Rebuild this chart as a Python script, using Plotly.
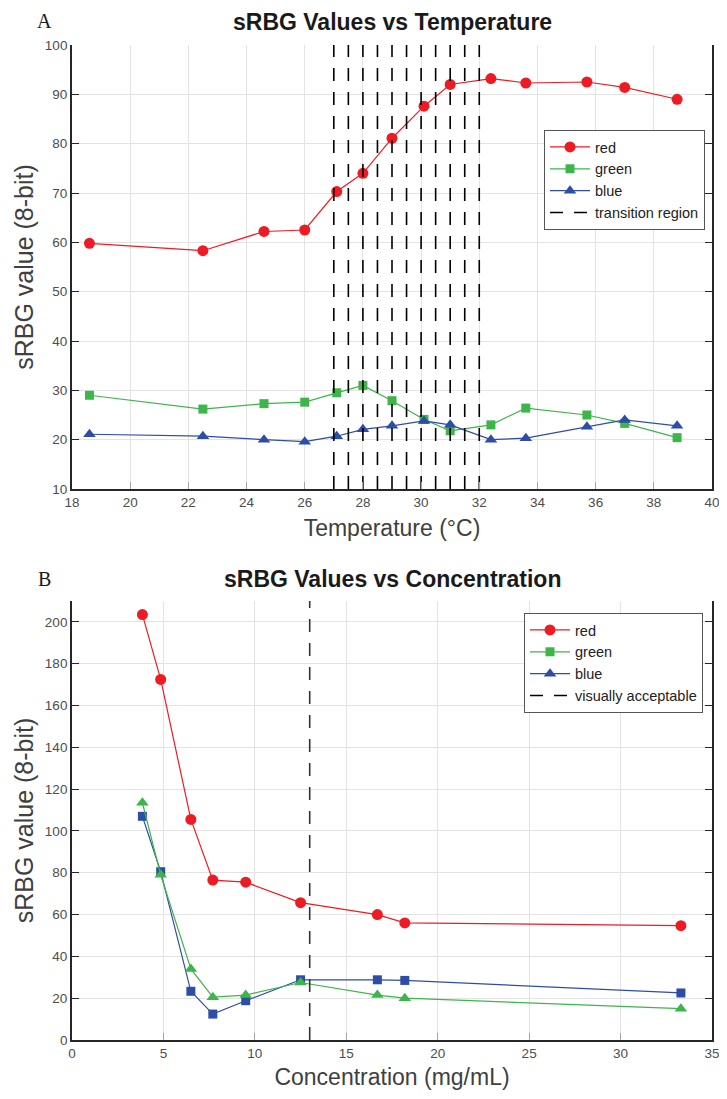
import plotly.graph_objects as go

# ---------------- data: panel A ----------------
temperature = [18.6, 22.5, 24.6, 26.0, 27.1, 28.0, 29.0, 30.1, 31.0, 32.4, 33.6, 35.7, 37.0, 38.8]
temp_red = [59.8, 58.3, 62.2, 62.5, 70.3, 74.0, 81.1, 87.6, 92.0, 93.2, 92.3, 92.5, 91.4, 89.0]
temp_green = [29.0, 26.2, 27.3, 27.6, 29.5, 31.0, 27.9, 24.1, 21.8, 23.0, 26.4, 25.0, 23.3, 20.4]
temp_blue = [21.1, 20.7, 20.0, 19.6, 20.7, 22.1, 22.8, 23.8, 23.0, 20.0, 20.3, 22.6, 24.0, 22.8]
transition_temps = [27.0, 27.5, 28.0, 28.5, 29.0, 29.5, 30.0, 30.5, 31.0, 31.5, 32.0]

# ---------------- data: panel B ----------------
concentration = [3.85, 4.85, 6.5, 7.7, 9.5, 12.5, 16.7, 18.2, 33.3]
conc_red = [203.5, 172.5, 105.5, 76.5, 75.5, 65.7, 60.0, 56.0, 54.7]
conc_green = [113.5, 79.0, 34.0, 20.5, 21.5, 27.5, 21.5, 20.0, 15.0]
conc_blue = [107.0, 80.5, 23.3, 12.4, 18.8, 28.8, 28.8, 28.5, 22.5]
acceptable_conc = [13.0]

series_names = ["red", "green", "blue"]
temp_ticks = list(range(18, 41, 2))
temp_vticks = list(range(10, 101, 10))
conc_ticks = list(range(0, 36, 5))
conc_vticks = list(range(0, 201, 20))

RED = "#ED1C24"
GREEN = "#3DB54A"
BLUE = "#2E4DA6"
AXIS = "#262626"
TXT = "#404040"
TICKTXT = "#4D4D4D"
GRID = "#E3E3E3"
XTICK = "#A6A6A6"
FONT = "Liberation Sans, Arial, Helvetica, sans-serif"
SERIF = "Liberation Serif, Times New Roman, serif"

# the page body has an 8px margin; work in window pixel coordinates
OFF = 8
WIN_W, WIN_H = 727, 1099
FW, FH = WIN_W - OFF, WIN_H - OFF
L, R = 72, 712
A_TOP, A_BOT = 45, 489
B_TOP, B_BOT = 601, 1040


def px(p):
    return (p - OFF) / FW


def py(p):
    return 1 - (p - OFF) / FH


fig = go.Figure()

# ---- Panel A traces ----
fig.add_trace(go.Scatter(x=temperature, y=temp_red, name=series_names[0], mode="lines+markers",
                         line=dict(color=RED, width=1.2), marker=dict(symbol="circle", size=11, color=RED),
                         xaxis="x", yaxis="y", legend="legend"))
fig.add_trace(go.Scatter(x=temperature, y=temp_green, name=series_names[1], mode="lines+markers",
                         line=dict(color=GREEN, width=1.2), marker=dict(symbol="square", size=9, color=GREEN),
                         xaxis="x", yaxis="y", legend="legend"))
fig.add_trace(go.Scatter(x=temperature, y=temp_blue, name=series_names[2], mode="lines+markers",
                         line=dict(color=BLUE, width=1.2), marker=dict(symbol="triangle-up", size=11, color=BLUE),
                         xaxis="x", yaxis="y", legend="legend"))
tx, ty = [], []
for t in transition_temps:
    tx += [t, t, None]
    ty += [temp_vticks[0], temp_vticks[-1], None]
fig.add_trace(go.Scatter(x=tx, y=ty, name="transition region", mode="lines",
                         line=dict(color="black", width=1.6, dash="13px,11px"),
                         xaxis="x", yaxis="y", legend="legend"))

# ---- Panel B traces ----
fig.add_trace(go.Scatter(x=concentration, y=conc_red, name=series_names[0], mode="lines+markers",
                         line=dict(color=RED, width=1.2), marker=dict(symbol="circle", size=11, color=RED),
                         xaxis="x2", yaxis="y2", showlegend=False))
fig.add_trace(go.Scatter(x=concentration, y=conc_blue, name=series_names[2], mode="lines+markers",
                         line=dict(color=BLUE, width=1.2), marker=dict(symbol="square", size=9, color=BLUE),
                         xaxis="x2", yaxis="y2", showlegend=False))
fig.add_trace(go.Scatter(x=concentration, y=conc_green, name=series_names[1], mode="lines+markers",
                         line=dict(color=GREEN, width=1.2), marker=dict(symbol="triangle-up", size=11, color=GREEN),
                         xaxis="x2", yaxis="y2", showlegend=False))
cx, cy = [], []
for c in acceptable_conc:
    cx += [c, c, None]
    cy += [0, 210, None]
fig.add_trace(go.Scatter(x=cx, y=cy, name="visually acceptable", mode="lines",
                         line=dict(color="#333333", width=1.6, dash="13px,11px"),
                         xaxis="x2", yaxis="y2", showlegend=False))
# legend entries for panel B (as drawn in the original legend)
for nm, col, sym in [(series_names[0], RED, "circle"), (series_names[1], GREEN, "square"),
                     (series_names[2], BLUE, "triangle-up")]:
    fig.add_trace(go.Scatter(x=[None], y=[None], name=nm, mode="lines+markers",
                             line=dict(color=col, width=1.2),
                             marker=dict(symbol=sym, size=9 if sym == "square" else 11, color=col),
                             xaxis="x2", yaxis="y2", legend="legend2"))
fig.add_trace(go.Scatter(x=[None], y=[None], name="visually acceptable", mode="lines",
                         line=dict(color="black", width=1.6, dash="13px,11px"),
                         xaxis="x2", yaxis="y2", legend="legend2"))

xdom = [px(L), px(R)]
common_x = dict(showline=True, linecolor=AXIS, linewidth=1.8, mirror=False, ticks="inside", ticklen=7,
                tickcolor=XTICK, showgrid=True, gridcolor=GRID, gridwidth=1, zeroline=False,
                tickfont=dict(family=FONT, size=13.5, color=TICKTXT), automargin=False,
                title_font=dict(family=FONT, size=23, color=TXT))
common_y = dict(showline=True, linecolor=AXIS, linewidth=1.8, mirror="ticks", ticks="inside", ticklen=7,
                tickcolor=AXIS, showgrid=True, gridcolor=GRID, gridwidth=1, zeroline=False,
                tickfont=dict(family=FONT, size=13.5, color=TICKTXT), automargin=False,
                title_font=dict(family=FONT, size=25, color=TXT))
top_x = dict(showline=True, linecolor="#D0D0D0", linewidth=1.2, ticks="inside", ticklen=7, tickcolor=XTICK,
             showgrid=False, zeroline=False, showticklabels=False, side="top", automargin=False)

legend_style = dict(bgcolor="white", bordercolor="#555555", borderwidth=1,
                    font=dict(family=FONT, size=14.5, color="#222222"),
                    xanchor="right", yanchor="top", itemwidth=40, tracegroupgap=0)

fig.update_layout(
    width=FW, height=FH,
    margin=dict(l=0, r=0, t=0, b=0),
    paper_bgcolor="white", plot_bgcolor="white",
    font=dict(family=FONT, color=TXT),
    xaxis=dict(common_x, domain=xdom, anchor="y", range=[18, 40], tickvals=temp_ticks,
               title=dict(text="Temperature (°C)", standoff=11)),
    yaxis=dict(common_y, domain=[py(A_BOT), py(A_TOP)], anchor="x", range=[10, 100], tickvals=temp_vticks,
               title=dict(text="sRBG value (8-bit)", standoff=4)),
    xaxis3=dict(top_x, overlaying="x", anchor="y", range=[18, 40], tickvals=temp_ticks),
    xaxis2=dict(common_x, domain=xdom, anchor="y2", range=[0, 35], tickvals=conc_ticks,
                title=dict(text="Concentration (mg/mL)", standoff=9)),
    yaxis2=dict(common_y, domain=[py(B_BOT), py(B_TOP)], anchor="x2", range=[0, 210], tickvals=conc_vticks,
                title=dict(text="sRBG value (8-bit)", standoff=4)),
    xaxis4=dict(top_x, overlaying="x2", anchor="y2", range=[0, 35], tickvals=conc_ticks),
    legend=dict(legend_style, x=px(705), y=py(130)),
    legend2=dict(legend_style, x=px(703), y=py(613)),
    showlegend=True,
    annotations=[
        dict(text="<b>sRBG Values vs Temperature</b>", x=px((L + R) / 2), y=py(22), xref="paper", yref="paper",
             showarrow=False, font=dict(family=FONT, size=23, color="#1a1a1a"), xanchor="center", yanchor="middle"),
        dict(text="<b>sRBG Values vs Concentration</b>", x=px((L + R) / 2), y=py(579), xref="paper", yref="paper",
             showarrow=False, font=dict(family=FONT, size=23, color="#1a1a1a"), xanchor="center", yanchor="middle"),
        dict(text="A", x=px(44), y=1.0, xref="paper", yref="paper", showarrow=False,
             font=dict(family=SERIF, size=20, color="#1a1a1a"), xanchor="center", yanchor="top"),
        dict(text="B", x=px(44), y=py(566), xref="paper", yref="paper", showarrow=False,
             font=dict(family=SERIF, size=20, color="#1a1a1a"), xanchor="center", yanchor="top"),
    ],
)

fig.write_html("out.html")
